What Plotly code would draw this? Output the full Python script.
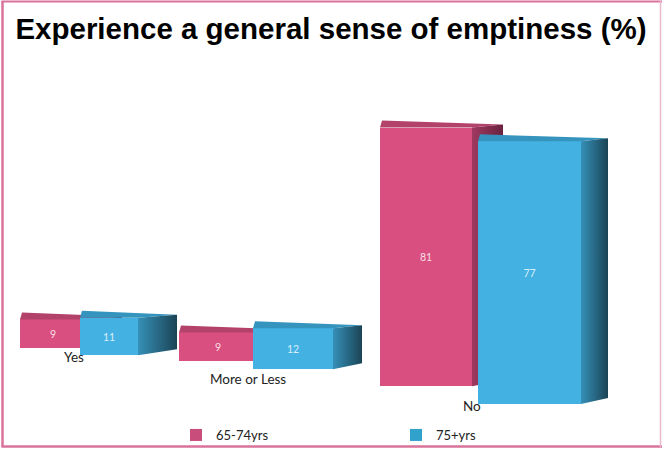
import plotly.graph_objects as go

# ---- data -------------------------------------------------------------
categories = ["Yes", "More or Less", "No"]
series_names = ["65-74yrs", "75+yrs"]
values_65_74 = [9, 9, 81]
values_75_plus = [11, 12, 77]

# ---- pseudo-3D layout (pixel space of a 662x450 canvas) ---------------
W, H = 662, 450
# vertical pixels per percentage point for each depth row (front row is closer)
px_per_unit = {"65-74yrs": 3.2, "75+yrs": 3.42}
front_left = {"65-74yrs": [20, 179, 380], "75+yrs": [80, 253, 478]}
front_right = {"65-74yrs": [86, 257, 472], "75+yrs": [138, 333, 581]}
floor_px = {"65-74yrs": [349, 362, 387], "75+yrs": [356, 370, 405]}
side_dx = {"65-74yrs": [36, 30, 31], "75+yrs": [39, 29, 27]}
top_dy_left, top_dy_right, side_dy_bottom = 7, 3, 6

front_col = {"65-74yrs": "#d94f80", "75+yrs": "#43b1e1"}
legend_col = {"65-74yrs": "#c84d7b", "75+yrs": "#31a2cc"}
top_col = {"65-74yrs": "#b3426b", "75+yrs": "#3594bd"}
side_cols = {"65-74yrs": ["#a0395f", "#6a2240"], "75+yrs": ["#3590b8", "#1b4455"]}
label_col = {"65-74yrs": "rgba(255,240,245,0.9)", "75+yrs": "rgba(235,248,255,0.9)"}

label_pos = [(74, 358), (248, 380), (472, 407)]

axis_of = {"65-74yrs": "y", "75+yrs": "y2"}

fig = go.Figure()

for name, vals in (("65-74yrs", values_65_74), ("75+yrs", values_75_plus)):
    k = px_per_unit[name]
    yref = axis_of[name]
    bases = [(H - f) / k for f in floor_px[name]]
    centers = [(l + r) / 2 for l, r in zip(front_left[name], front_right[name])]
    widths = [r - l for l, r in zip(front_left[name], front_right[name])]

    # front faces
    fig.add_trace(go.Bar(
        x=centers, y=vals, base=bases, width=widths, yaxis=yref,
        name=name, marker=dict(color=front_col[name], line=dict(width=0)),
        text=[str(v) for v in vals], textposition="inside",
        insidetextanchor="middle", textangle=0,
        insidetextfont=dict(family="Lato, sans-serif", size=10.5, color=label_col[name]),
        hoverinfo="skip", showlegend=False,
    ))

    # top and side faces, derived from each bar's base and value
    for i, v in enumerate(vals):
        x0, x1 = front_left[name][i], front_right[name][i]
        dx = side_dx[name][i]
        yb = bases[i]
        yt = bases[i] + v
        fig.add_trace(go.Scatter(
            x=[x0, x1, x1 + dx, x0 + 2, x0],
            y=[yt, yt, yt + top_dy_right / k, yt + top_dy_left / k, yt],
            yaxis=yref, mode="lines", line=dict(width=0),
            fill="toself", fillcolor=top_col[name],
            hoverinfo="skip", showlegend=False,
        ))
        fig.add_trace(go.Scatter(
            x=[x1, x1 + dx, x1 + dx, x1, x1],
            y=[yt, yt + top_dy_right / k, yb + side_dy_bottom / k, yb, yt],
            yaxis=yref, mode="lines", line=dict(width=0),
            fill="toself",
            fillgradient=dict(type="horizontal",
                              colorscale=[[0, side_cols[name][0]], [1, side_cols[name][1]]]),
            hoverinfo="skip", showlegend=False,
        ))

# legend entries
for name in series_names:
    fig.add_trace(go.Bar(
        x=[None], y=[None], name=name,
        marker=dict(color=legend_col[name], line=dict(width=0)),
        yaxis=axis_of[name],
    ))

# category labels
for cat, (lx, ly) in zip(categories, label_pos):
    fig.add_annotation(
        x=lx / W, y=1 - ly / H, xref="paper", yref="paper",
        text=cat, showarrow=False, xanchor="center", yanchor="middle",
        font=dict(family="Lato, sans-serif", size=13.5, color="#222222"),
    )

# frame
frame = "#d9739b"
fig.add_shape(type="line", xref="paper", yref="paper", x0=2.5 / W, x1=2.5 / W,
              y0=1 - 1 / H, y1=1 - 448 / H, line=dict(color=frame, width=2.5))
fig.add_shape(type="line", xref="paper", yref="paper", x0=1.5 / W, x1=1,
              y0=1 - 447.5 / H, y1=1 - 447.5 / H, line=dict(color=frame, width=2.5))
fig.add_shape(type="line", xref="paper", yref="paper", x0=1.5 / W, x1=1,
              y0=1 - 1.5 / H, y1=1 - 1.5 / H, line=dict(color=frame, width=2))
fig.add_shape(type="line", xref="paper", yref="paper", x0=1 - 1.5 / W, x1=1 - 1.5 / W,
              y0=1 - 1 / H, y1=1 - 448 / H, line=dict(color="#ebb9cb", width=1.5))

fig.update_layout(
    width=W, height=H,
    margin=dict(l=0, r=0, t=0, b=0),
    paper_bgcolor="white", plot_bgcolor="white",
    barmode="overlay", bargap=0,
    title=dict(
        text="<b>Experience a general sense of emptiness (%)</b>",
        x=0.5, xanchor="center", y=1 - 29 / H, yanchor="middle",
        font=dict(family="Liberation Sans, Arial, sans-serif", size=29.5, color="#000000"),
    ),
    xaxis=dict(range=[0, W], visible=False, fixedrange=True),
    yaxis=dict(range=[0, H / px_per_unit["65-74yrs"]], visible=False, fixedrange=True),
    yaxis2=dict(range=[0, H / px_per_unit["75+yrs"]], visible=False, fixedrange=True,
                overlaying="y"),
    legend=dict(
        orientation="h", x=176 / W, xanchor="left", y=1 - 436 / H, yanchor="middle",
        entrywidth=175, entrywidthmode="pixels",
        font=dict(family="Lato, sans-serif", size=13, color="#222222"),
        bgcolor="rgba(0,0,0,0)",
    ),
    showlegend=True,
)

fig.write_html("out.html")
